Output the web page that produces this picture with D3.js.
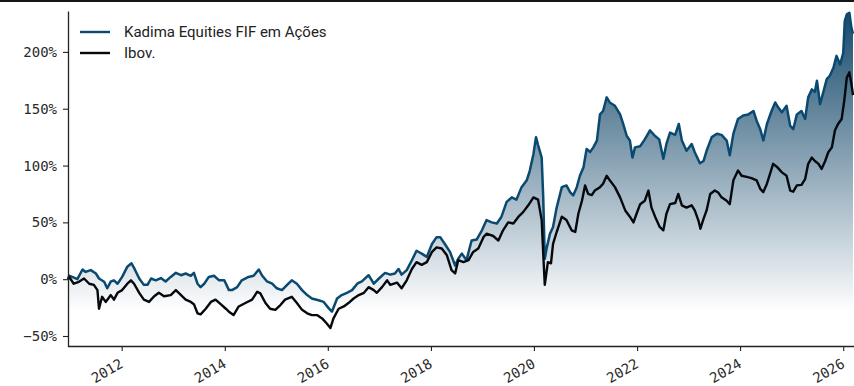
<!DOCTYPE html>
<html>
<head>
<meta charset="utf-8">
<script src="https://cdn.jsdelivr.net/npm/d3@7"></script>
<style>
  html, body { margin: 0; padding: 0; background: #fff; }
  svg { display: block; }
</style>
</head>
<body>
<svg id="chart" width="854" height="386"></svg>
<script>
// Cumulative return (%) since Dec 2010, dates given as decimal years
const fundYears = [
  2010.96, 2010.98, 2011.04, 2011.14, 2011.24, 2011.30, 2011.40, 2011.50, 2011.56, 2011.66,
  2011.72, 2011.79, 2011.85, 2011.92, 2012.01, 2012.11, 2012.19, 2012.25, 2012.34, 2012.43,
  2012.50, 2012.57, 2012.66, 2012.76, 2012.85, 2012.95, 2013.05, 2013.15, 2013.24, 2013.34,
  2013.40, 2013.47, 2013.53, 2013.60, 2013.69, 2013.79, 2013.89, 2013.99, 2014.08, 2014.14,
  2014.24, 2014.33, 2014.46, 2014.56, 2014.66, 2014.72, 2014.82, 2014.92, 2015.01, 2015.11,
  2015.21, 2015.30, 2015.40, 2015.50, 2015.60, 2015.69, 2015.82, 2015.92, 2016.02, 2016.08,
  2016.18, 2016.27, 2016.37, 2016.47, 2016.57, 2016.66, 2016.79, 2016.89, 2016.99, 2017.11,
  2017.21, 2017.30, 2017.37, 2017.43, 2017.53, 2017.63, 2017.72, 2017.82, 2017.92, 2018.02,
  2018.11, 2018.18, 2018.27, 2018.37, 2018.47, 2018.53, 2018.60, 2018.69, 2018.79, 2018.89,
  2018.99, 2019.08, 2019.18, 2019.28, 2019.37, 2019.47, 2019.57, 2019.66, 2019.76, 2019.86,
  2019.92, 2019.99, 2020.04, 2020.08, 2020.15, 2020.18, 2020.21, 2020.25, 2020.31, 2020.37,
  2020.44, 2020.54, 2020.63, 2020.70, 2020.76, 2020.83, 2020.89, 2020.96, 2021.02, 2021.09,
  2021.15, 2021.22, 2021.28, 2021.34, 2021.41, 2021.47, 2021.57, 2021.67, 2021.73, 2021.80,
  2021.86, 2021.91, 2021.96, 2022.06, 2022.15, 2022.25, 2022.35, 2022.43, 2022.51, 2022.57,
  2022.64, 2022.74, 2022.81, 2022.87, 2022.96, 2023.06, 2023.12, 2023.22, 2023.29, 2023.35,
  2023.45, 2023.55, 2023.64, 2023.74, 2023.80, 2023.87, 2023.96, 2024.06, 2024.16, 2024.26,
  2024.32, 2024.39, 2024.45, 2024.52, 2024.61, 2024.68, 2024.74, 2024.81, 2024.90, 2024.97,
  2025.03, 2025.10, 2025.19, 2025.26, 2025.32, 2025.39, 2025.45, 2025.49, 2025.55, 2025.61,
  2025.68, 2025.74, 2025.81, 2025.87, 2025.94, 2026.00, 2026.03, 2026.07, 2026.12, 2026.16,
  2026.19
];
const fundReturns = [
  0, 3, 2, 0, 8.5, 6.4, 8, 5, 0.6, -2.3,
  -8, -2, -1, -4, 2, 11, 14, 9, 0.6, -5,
  -5, 0.6, -1, 1, -2, 2, 5.6, 3.5, 5, 3,
  5.6, -4, -7, -4, 2, 3, -1, -1, -9.6, -9.6,
  -7, -1, 2, 3, 8.5, 3.5, -2, -4, -8, -9.6,
  -5, -1, -4, -9.6, -14, -17, -18.6, -20, -25.7, -28.6,
  -17, -14, -12, -9.6, -4, -2, 3.5, -4, 0.6, 5.5,
  4, 5, 9, 4, 8, 16.7, 25, 22.5, 19.6, 31,
  37, 37, 31, 24, 12, 18, 22.5, 16.7, 34, 35,
  43, 52, 50, 49, 55, 68, 72, 70, 81, 87,
  95.6, 110, 125, 118, 107, 72, 18, 28, 40, 46,
  63, 81, 82.5, 76.6, 73.7, 81, 91, 98.5, 114.6, 112,
  116, 122, 145, 148, 160, 155.5, 152.6, 145, 136.6, 126,
  122, 107, 116, 117, 123, 131, 126, 123, 106, 119,
  129, 127, 136.6, 122, 113, 119, 111.7, 102, 104, 113,
  125, 128, 127, 122, 109, 128, 141, 144, 145, 148,
  139.5, 132, 122, 136.6, 148, 155.5, 151, 146.8, 152.6, 135,
  132, 145, 148, 141, 160, 167, 165, 174.6, 154, 164,
  176, 179, 186, 196.5, 189, 199, 227, 233, 234.5, 221,
  216
];

const ibovYears = [
  2010.96, 2010.98, 2011.07, 2011.17, 2011.27, 2011.37, 2011.46, 2011.53, 2011.56, 2011.62,
  2011.69, 2011.79, 2011.85, 2011.92, 2012.01, 2012.11, 2012.18, 2012.24, 2012.34, 2012.43,
  2012.53, 2012.63, 2012.72, 2012.82, 2012.95, 2013.05, 2013.15, 2013.24, 2013.34, 2013.40,
  2013.47, 2013.53, 2013.63, 2013.73, 2013.82, 2013.92, 2014.02, 2014.08, 2014.17, 2014.27,
  2014.40, 2014.53, 2014.63, 2014.69, 2014.79, 2014.88, 2014.98, 2015.08, 2015.17, 2015.30,
  2015.40, 2015.50, 2015.60, 2015.69, 2015.79, 2015.89, 2015.98, 2016.05, 2016.11, 2016.21,
  2016.31, 2016.40, 2016.50, 2016.60, 2016.70, 2016.79, 2016.89, 2016.95, 2017.05, 2017.15,
  2017.21, 2017.34, 2017.43, 2017.53, 2017.63, 2017.72, 2017.82, 2017.92, 2018.02, 2018.11,
  2018.21, 2018.31, 2018.40, 2018.47, 2018.53, 2018.63, 2018.73, 2018.82, 2018.92, 2019.02,
  2019.08, 2019.21, 2019.31, 2019.40, 2019.50, 2019.60, 2019.70, 2019.79, 2019.89, 2019.99,
  2020.08, 2020.15, 2020.18, 2020.21, 2020.27, 2020.33, 2020.37, 2020.44, 2020.54, 2020.63,
  2020.73, 2020.80, 2020.86, 2020.93, 2020.99, 2021.05, 2021.12, 2021.18, 2021.28, 2021.34,
  2021.41, 2021.47, 2021.57, 2021.67, 2021.77, 2021.86, 2021.93, 2021.99, 2022.06, 2022.15,
  2022.22, 2022.28, 2022.35, 2022.44, 2022.51, 2022.57, 2022.64, 2022.74, 2022.80, 2022.87,
  2022.96, 2023.06, 2023.12, 2023.19, 2023.23, 2023.29, 2023.35, 2023.42, 2023.51, 2023.58,
  2023.64, 2023.74, 2023.80, 2023.87, 2023.96, 2024.03, 2024.13, 2024.22, 2024.32, 2024.39,
  2024.45, 2024.52, 2024.58, 2024.64, 2024.71, 2024.81, 2024.90, 2024.97, 2025.03, 2025.10,
  2025.19, 2025.26, 2025.32, 2025.39, 2025.45, 2025.52, 2025.58, 2025.65, 2025.71, 2025.78,
  2025.84, 2025.90, 2025.97, 2026.02, 2026.07, 2026.12, 2026.16, 2026.19
];
const ibovReturns = [
  0, 2, -4, -2.3, 0.6, -4, -5, -9.6, -26, -15.5,
  -20, -14, -18, -12, -9.6, -4, -1, -4, -12, -18,
  -20, -15, -12, -15, -14, -9.6, -14, -18, -20, -22,
  -30, -31, -26, -20, -18, -22, -26, -28.6, -31.6, -24,
  -21, -18, -11, -12.5, -21, -26, -27, -22.8, -18, -15.5,
  -21, -27, -30, -31.6, -31.6, -34.5, -39, -43, -34.5, -26,
  -24, -21, -17, -14, -12, -7, -9.6, -12, -7, -1,
  -5, -3, -8, -1, 9, 15, 12.6, 15, 24, 28,
  27, 21, 8, 5, 16.7, 15, 16.7, 24, 27, 37,
  40, 38, 34, 43, 50, 49, 55, 59, 65, 72,
  70, 52, 22.5, -5, 15, 14, 31, 41.5, 55, 52,
  43, 41.5, 57.6, 69, 82.5, 75, 74, 78, 81, 84,
  91, 87, 81, 72, 60.5, 55, 50, 57.6, 66, 69,
  78, 63, 55, 46, 43, 57.6, 66, 67, 75, 65,
  63, 65, 60.5, 51.8, 44.4, 53, 60.5, 75, 78, 76,
  72, 69, 66, 87, 95.6, 91, 90, 89, 87, 79.5,
  76.6, 84, 92.7, 101.5, 99, 94, 91, 78, 77, 82.5,
  83, 88, 101.5, 107, 104, 101.5, 97, 104, 111.7, 116,
  131, 136.6, 141, 157, 177.5, 182, 171.6, 162
];

const seriesNames = ["Kadima Equities FIF em Ações", "Ibov."];
const yTickValues = [-50, 0, 50, 100, 150, 200];
const xTickYears = [2012, 2014, 2016, 2018, 2020, 2022, 2024, 2026];
const yDomain = [-58.8, 236];

const fundColor = "#0b4a70";
const ibovColor = "#05090d";

function yearToDate(t) {
  const y = Math.floor(t);
  const start = new Date(y, 0, 1).getTime();
  const end = new Date(y + 1, 0, 1).getTime();
  return new Date(start + (t - y) * (end - start));
}

const fund = fundYears.map((t, i) => ({ date: yearToDate(t), value: fundReturns[i] }));
const ibov = ibovYears.map((t, i) => ({ date: yearToDate(t), value: ibovReturns[i] }));

const plot = { left: 68, right: 853, top: 11, bottom: 346 };
const svg = d3.select("#chart");

const x = d3.scaleTime()
  .domain([yearToDate(2010.958), yearToDate(2026.19)])
  .range([plot.left, plot.right]);
const y = d3.scaleLinear().domain(yDomain).range([plot.bottom, plot.top]);

// dark rule along the top edge of the figure
svg.append("rect").attr("x", 0).attr("y", 0).attr("width", 854).attr("height", 2).attr("fill", "#151515");

// vertical fade under the fund curve
const defs = svg.append("defs");
const grad = defs.append("linearGradient")
  .attr("id", "fundFade")
  .attr("gradientUnits", "userSpaceOnUse")
  .attr("x1", 0).attr("x2", 0)
  .attr("y1", y(d3.max(fundReturns)))
  .attr("y2", y(d3.min(fundReturns)));
grad.append("stop").attr("offset", 0).attr("stop-color", "#0a4064").attr("stop-opacity", 0.95);
grad.append("stop").attr("offset", 1).attr("stop-color", "#0a4064").attr("stop-opacity", 0);

const area = d3.area()
  .x(d => x(d.date))
  .y0(plot.bottom)
  .y1(d => y(d.value));
svg.append("path").datum(fund).attr("d", area).attr("fill", "url(#fundFade)");

const line = d3.line().x(d => x(d.date)).y(d => y(d.value));
svg.append("path").datum(fund).attr("d", line)
  .attr("fill", "none").attr("stroke", fundColor).attr("stroke-width", 2.5)
  .attr("stroke-linejoin", "round");
svg.append("path").datum(ibov).attr("d", line)
  .attr("fill", "none").attr("stroke", ibovColor).attr("stroke-width", 2.4)
  .attr("stroke-linejoin", "round");

// axes
const tickFont = "'DejaVu Sans Mono', monospace";
const yAxis = d3.axisLeft(y)
  .tickValues(yTickValues)
  .tickSize(5).tickSizeOuter(0).tickPadding(6)
  .tickFormat(d => (d < 0 ? "\u2212" : "") + Math.abs(d) + "%");
const gy = svg.append("g").attr("transform", `translate(${plot.left},0)`).call(yAxis);
gy.selectAll("text").attr("font-family", tickFont).attr("font-size", 14).attr("fill", "#2a2a2a");

const xAxis = d3.axisBottom(x)
  .tickValues(xTickYears.map(yr => new Date(yr, 0, 1)))
  .tickSize(5).tickSizeOuter(0)
  .tickFormat(d3.timeFormat("%Y"));
const gx = svg.append("g").attr("transform", `translate(0,${plot.bottom})`).call(xAxis);
gx.select(".domain").attr("d", `M${plot.left},0.5H854`);
gx.selectAll("text")
  .attr("font-family", tickFont).attr("font-size", 14).attr("fill", "#2a2a2a")
  .attr("text-anchor", "end")
  .attr("x", 0).attr("y", 0).attr("dy", "0.71em")
  .attr("transform", "translate(-3,12) rotate(-30)");

[gx, gy].forEach(g => {
  g.select(".domain").attr("stroke", "#222").attr("stroke-width", 1.3);
  g.selectAll(".tick line").attr("stroke", "#222").attr("stroke-width", 1.1);
});

// legend
const legend = svg.append("g");
[[seriesNames[0], fundColor, 32], [seriesNames[1], ibovColor, 53]].forEach(([name, color, ly]) => {
  legend.append("line").attr("x1", 80).attr("x2", 110).attr("y1", ly).attr("y2", ly)
    .attr("stroke", color).attr("stroke-width", 2.4);
  legend.append("text").attr("x", 124).attr("y", ly).attr("dy", "0.35em")
    .attr("font-family", "Roboto, sans-serif").attr("font-size", 15).attr("fill", "#222")
    .text(name);
});
</script>
</body>
</html>
